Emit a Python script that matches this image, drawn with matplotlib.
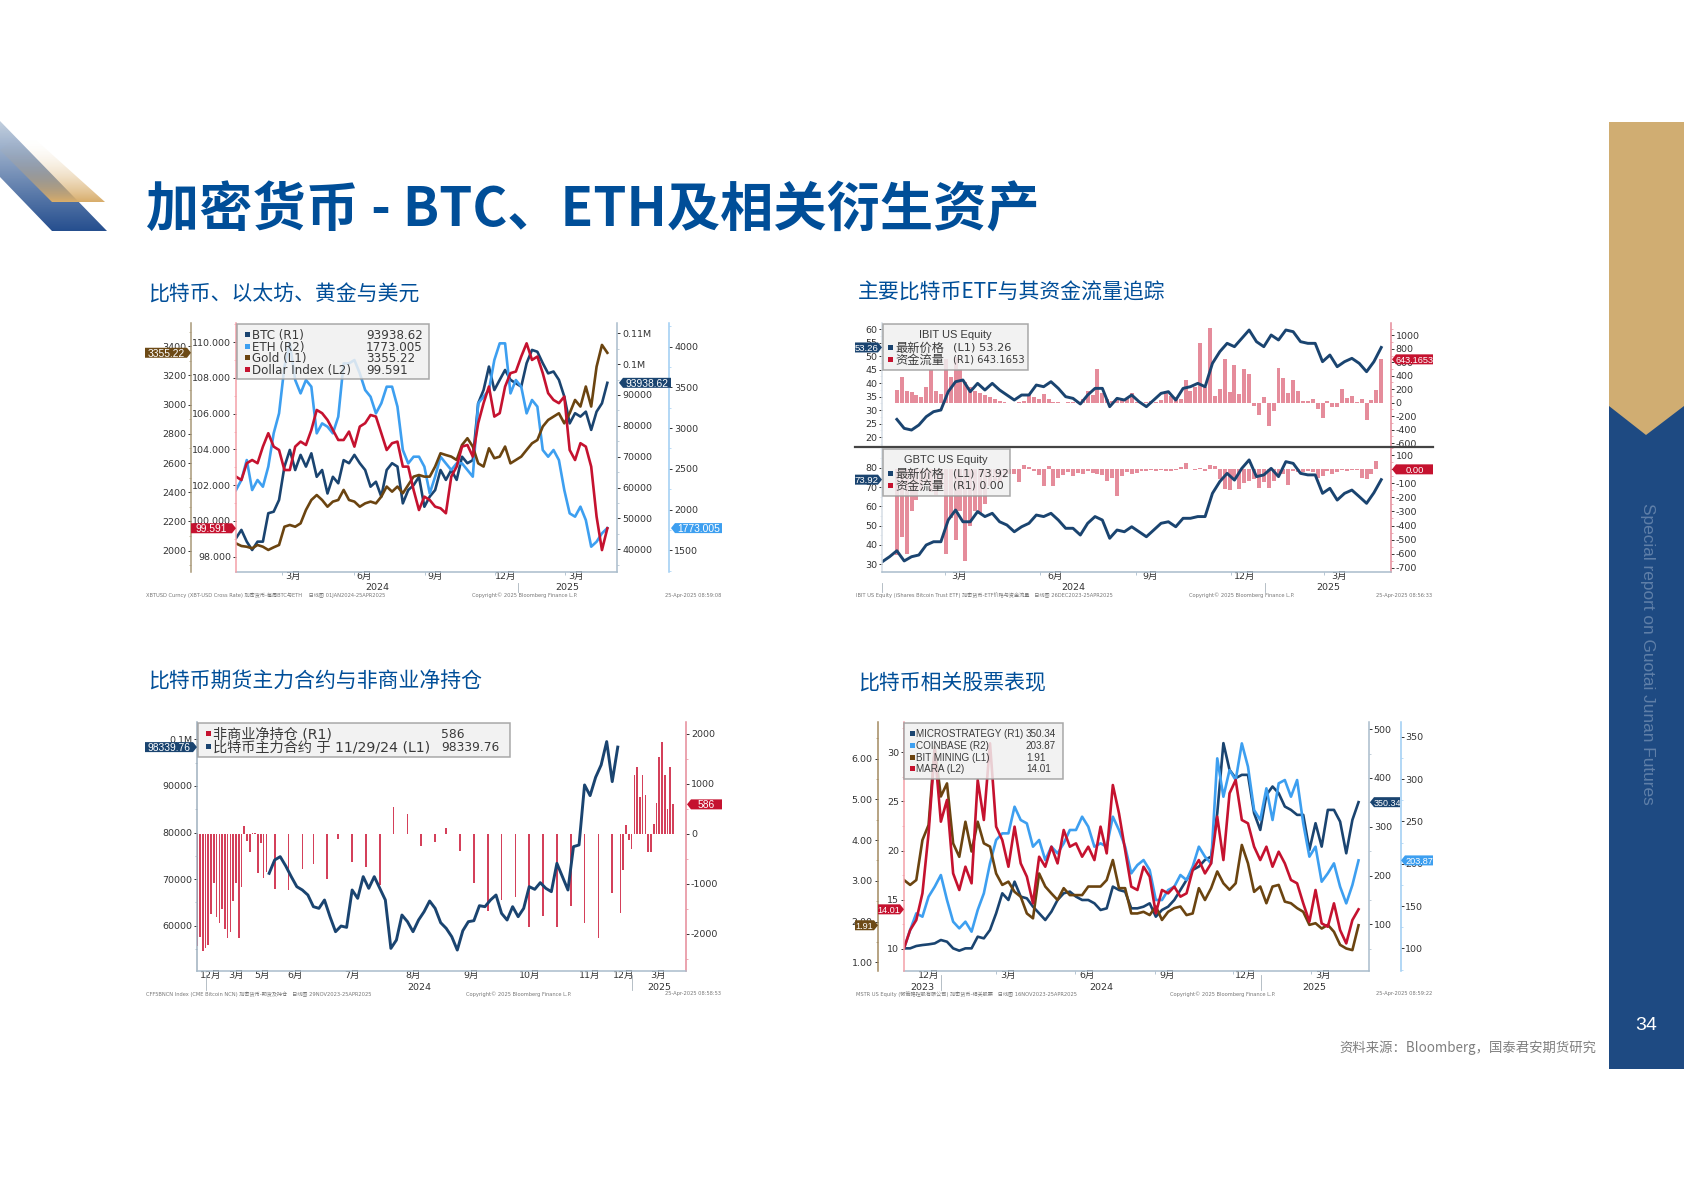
#!/usr/bin/env python3
"""Crypto report page: BTC, ETH and related assets, four Bloomberg style panels."""

import matplotlib

matplotlib.use("Agg")

import matplotlib.pyplot as plt
import numpy as np
import pandas as pd
from matplotlib.patches import Polygon, Rectangle
from matplotlib.ticker import AutoMinorLocator

plt.rcParams["font.family"] = ["DejaVu Sans", "Noto Sans CJK SC"]

WIDTH, HEIGHT = 1684, 1191
NAVY = "#1a4470"
SKY = "#3d9ff0"
BROWN = "#6b4410"
RED = "#c5122f"
PINK = "#e58a98"
TITLE_BLUE = "#004e98"
AXIS_BLUE = "#a9bccb"
TICK_TEXT = "#333333"
SLIM = ["Liberation Sans", "Noto Sans CJK SC"]

# panel 1, weekly readings 2024-01-01 to 2025-04-25
btc = [43600, 46300, 42500, 39800, 42500, 42500, 51700, 52200, 56000, 66800, 72200, 65700, 70600, 66800,
       71100, 63500, 65700, 58100, 63500, 61400, 68900, 67900, 70600, 67900, 65700, 60300, 61900, 57100,
       65700, 67900, 66800, 54900, 59200, 60800, 63500, 53800, 57100, 59200, 65700, 62500, 65700, 62500,
       70000, 67900, 68900, 87300, 91600, 99200, 91600, 94900, 98100, 94900, 93800, 92700, 100300, 104600,
       104000, 100300, 97000, 97600, 94900, 89500, 80800, 84100, 83000, 84600, 78700, 84600, 87300, 93939]
eth = [2240, 2363, 2608, 2240, 2363, 2281, 2527, 2936, 3181, 3754, 4040, 3590, 3426, 3590, 3508, 2936,
       3058, 3017, 2936, 3140, 3794, 3794, 3835, 3672, 3467, 3385, 3181, 3304, 3508, 3508, 3263, 2731,
       2567, 2649, 2649, 2527, 2199, 2404, 2649, 2567, 2486, 2567, 2567, 2486, 2404, 3304, 3385, 3467,
       3835, 4040, 4040, 3426, 3590, 3508, 3181, 3345, 3263, 2731, 2649, 2731, 2608, 2240, 1954, 1913,
       2036, 1872, 1545, 1606, 1709, 1773]
gold = [2050, 2032, 2027, 2016, 2039, 2027, 2005, 2023, 2039, 2164, 2176, 2164, 2187, 2279, 2347, 2381,
        2347, 2301, 2336, 2347, 2416, 2347, 2336, 2301, 2324, 2336, 2324, 2370, 2439, 2404, 2439, 2393,
        2450, 2507, 2518, 2507, 2507, 2576, 2667, 2655, 2644, 2621, 2724, 2770, 2713, 2598, 2576, 2701,
        2633, 2644, 2713, 2598, 2621, 2644, 2690, 2735, 2758, 2850, 2895, 2918, 2941, 2872, 2941, 3032,
        2987, 3124, 2987, 3260, 3409, 3355]
dollar_index = [102.48, 102.29, 103.23, 103.41, 103.23, 104.16, 104.91, 104.16, 103.97, 102.85, 102.85,
                104.16, 104.44, 104.25, 105.09, 106.21, 106.03, 105.65, 105.09, 104.53, 104.53, 105.0,
                104.16, 105.28, 105.47, 105.93, 105.84, 104.91, 103.97, 104.35, 104.44, 103.04, 103.04,
                101.73, 100.61, 101.36, 101.17, 100.8, 100.71, 100.43, 102.48, 103.04, 104.16, 104.25,
                103.6, 105.47, 106.59, 107.52, 105.84, 106.03, 107.52, 108.27, 108.36, 109.2, 109.94,
                109.01, 109.2, 108.27, 107.15, 106.77, 106.59, 106.96, 103.97, 103.41, 104.35, 104.16,
                103.04, 100.24, 98.37, 99.59]

# panel 2, weekly prices and flow readings
ibit_price = [26.56, 23.22, 22.6, 24.46, 27.55, 29.41, 30.03, 36.84, 40.55, 41.17, 36.84, 39.93, 37.46,
              39.93, 37.46, 35.6, 33.74, 35.6, 35.6, 39.31, 38.69, 40.55, 38.07, 34.98, 34.36, 32.26, 35.6,
              38.07, 38.07, 31.27, 34.36, 33.74, 35.6, 33.12, 31.27, 33.74, 36.22, 36.84, 33.74, 38.07,
              38.69, 39.93, 38.69, 47.36, 51.69, 54.79, 53.55, 56.64, 59.74, 55.41, 53.55, 57.88, 56.03,
              59.74, 59.12, 55.41, 54.79, 54.79, 47.98, 50.45, 46.12, 47.98, 49.22, 47.36, 44.26, 47.98,
              53.26]
ibit_flow = [190, 380, 170, 160, 110, 90, 230, 480, 170, 130, 650, 380, 680, 500, 300, 230, 180, 150, 120,
             90, 60, 20, 5, 0, -5, 10, 30, 130, 90, 60, 130, 50, 10, 5, 0, 5, 10, 3, 60, 170, 120, 500,
             140, 60, 20, 70, 50, 70, 150, 10, -5, 5, 30, 5, 40, 170, 100, 90, 50, 330, 170, 240, 880, 240,
             1110, 100, 200, 650, 160, 560, 130, 500, 420, -50, -180, 80, -340, -120, 520, 370, 150, 340,
             180, 30, 30, 50, -100, -230, 30, -60, -70, 210, 70, 100, 10, 50, -250, 40, 190, 643]
gbtc_start = ["2024-01-01", "2024-01-08"]
gbtc_price = [31.2, 33.8, 36.9, 31.6, 33.8, 34.7, 39.9, 41.6, 41.6, 52.9, 58.1, 52.0, 52.0, 57.3, 54.7,
              56.4, 52.0, 50.3, 46.8, 49.4, 51.2, 55.5, 54.7, 56.4, 52.9, 48.6, 48.6, 45.1, 51.2, 54.7,
              52.9, 43.4, 47.7, 46.8, 49.4, 46.8, 44.2, 47.7, 51.2, 52.0, 49.4, 53.8, 53.8, 54.7, 54.7,
              66.8, 72.9, 77.2, 73.7, 79.8, 84.2, 75.5, 76.4, 79.8, 75.5, 83.3, 82.4, 77.2, 76.4, 76.4,
              66.8, 69.4, 63.3, 66.8, 68.5, 65.1, 61.6, 67.1, 73.92]
gbtc_flow = [-610, -480, -600, -300, -220, -150, -100, -160, -180, -120, -600, -350, -500, -300, -650,
             -400, -300, -320, -250, -120, -80, -100, -60, -30, -30, -90, 30, 20, -10, -40, -120, 25, -120,
             -60, -40, -20, -50, -25, -30, -10, -25, -30, -40, -80, -60, -190, -50, -20, -30, -25, -10,
             -10, -5, -15, -5, -10, -15, -5, 15, 45, 5, -5, 10, -15, 30, 25, -70, -140, -150, -70, -140,
             -100, -80, -70, -130, -90, -130, -80, -50, -30, -110, -10, -20, -20, -10, -20, -60, -50, -10,
             -30, -20, -5, -10, -5, -5, -60, -70, -30, 60, 0]

# panel 3, ordinal session slots because the source axis skips dates
position_slots = list(range(26)) + [28, 33, 38, 42, 47, 51, 56, 61, 66, 71, 76, 81, 86, 90, 95, 100, 105,
                                    110, 115, 120, 125, 130, 135, 140, 145, 150, 153, 154, 155, 156, 157,
                                    158, 159, 160, 161, 162, 163, 164, 165, 166, 167, 168, 169, 170, 171,
                                    172]
net_position = [-2247, -2060, -2340, -2293, -2227, -1607, -980, -1660, -1793, -1513, -1913, -2093, -1960,
                -1347, -980, -2093, -1073, 153, -147, -360, 10, 10, -780, -180, -880, -760, -1113, -1127,
                -713, -613, -907, -113, -573, -660, -1027, 527, 393, -240, -160, 107, -340, -980, -1540,
                -1327, -1273, -1873, -1647, -1860, -1447, -1793, -2080, -1193, -1593, -727, 167, -127, -313,
                1180, 1327, 740, 1167, 780, -360, -360, 193, 620, 1527, 1833, 1173, 487, 1327, 586]
future_slots = list(range(26, 153, 2))
btc_future = [71241, 74105, 74821, 72816, 70525, 68377, 67661, 66587, 64081, 63723, 65513, 61933, 58711,
              59928, 59642, 67661, 65871, 70525, 68019, 70525, 68019, 65513, 55131, 56921, 62291, 60859,
              58711, 61217, 63007, 65298, 63723, 60644, 59427, 57637, 54773, 58926, 60859, 61074, 64296,
              64081, 65513, 66587, 62649, 61217, 64081, 61933, 63723, 68377, 67804, 69236, 68019, 67303,
              73389, 70525, 67661, 76969, 77327, 90215, 87924, 91862, 94511, 99523, 90931, 98340]
future_tick_slots = [4.7, 13.9, 23.3, 35.4, 56, 77.9, 98.9, 120, 141.9, 154.3, 166.7]
future_tick_labels = ["12月", "3月", "5月", "6月", "7月", "8月", "9月", "10月", "11月", "12月", "3月"]

# panel 4, weekly readings 2023-11-16 to 2025-04-25
mstr = [50.8, 50.8, 55.6, 57.6, 59, 61, 67.9, 64.4, 50.8, 46, 50.8, 50.8, 74.7, 71.3, 88.4, 122.6, 163.6,
        149.9, 187.5, 156.8, 153.3, 136.2, 122.6, 108.9, 126, 149.9, 163.6, 167, 156.8, 149.9, 149.9, 143.1,
        129.4, 132.8, 177.3, 170.4, 167, 132.8, 132.8, 136.2, 143.1, 115.7, 129.4, 136.2, 149.9, 170.4,
        190.9, 211.5, 218.3, 232, 238.8, 327.7, 471.3, 416.6, 399.5, 406.3, 406.3, 327.7, 293.5, 365.3,
        382.4, 368.7, 341.4, 334.5, 324.3, 324.3, 252.5, 307.2, 259.3, 334.5, 334.5, 310.6, 245.6, 314,
        350.34]
coinbase = [100, 121.7, 141.3, 137.4, 161, 172.8, 186.6, 157.1, 131.5, 123.6, 131.5, 119.7, 145.3, 165,
            200.4, 228, 235.8, 235.8, 267.3, 251.6, 247.6, 220.1, 228, 204.3, 220.1, 212.2, 224, 239.8,
            239.8, 255.5, 243.7, 220.1, 224, 220.1, 255.5, 239.8, 220.1, 188.6, 198.4, 204.3, 192.5, 157.1,
            157.1, 168.9, 172.8, 186.6, 180.7, 196.5, 220.1, 208.3, 200.4, 324.4, 279.1, 310.6, 298.8,
            342.1, 314.6, 263.4, 251.6, 289, 251.6, 294.9, 298.8, 279.1, 298.8, 247.6, 208.3, 220.1, 178.7,
            188.6, 200.4, 172.8, 153.1, 174.8, 203.87]
bit_mining = [3.02, 2.9, 3.02, 4.0, 4.37, 6.29, 5.07, 5.39, 3.92, 3.59, 4.45, 3.72, 4.45, 3.92, 3.84, 3.18,
              2.9, 2.98, 2.73, 2.61, 2.2, 2.08, 3.18, 2.86, 2.69, 2.53, 2.82, 2.65, 2.65, 2.65, 2.86, 2.86,
              2.86, 3.02, 3.51, 2.82, 2.82, 2.2, 2.2, 2.24, 2.16, 2.37, 2.04, 2.24, 2.33, 2.37, 2.16, 2.2,
              2.82, 2.53, 2.82, 3.23, 2.94, 2.78, 2.94, 3.88, 3.43, 2.73, 2.86, 2.45, 2.86, 2.9, 2.49, 2.45,
              2.33, 2.24, 1.92, 1.96, 1.83, 1.92, 1.75, 1.43, 1.34, 1.3, 1.91]
mara = [10.03, 11.9, 12.92, 15.64, 21.75, 30.24, 22.94, 25.15, 17.67, 15.98, 18.35, 16.66, 27.18, 23.11,
        30.92, 22.43, 21.07, 18.35, 22.43, 18.69, 17.34, 14.62, 19.37, 18.35, 20.39, 18.69, 22.09, 20.39,
        20.73, 19.37, 20.39, 19.03, 22.43, 19.71, 26.67, 23.79, 20.05, 16.32, 15.98, 18.35, 17.34, 13.6,
        15.98, 15.64, 16.32, 15.3, 15.64, 18.01, 19.03, 17.67, 18.69, 23.45, 19.03, 25.83, 27.18, 23.11,
        22.77, 20.39, 19.03, 20.39, 18.35, 19.88, 18.69, 17, 16.66, 14.62, 12.75, 15.98, 12.58, 12.24,
        14.62, 11.9, 10.54, 12.92, 14.01]


def weekly(start, count):
    return pd.date_range(start, "2025-04-25", periods=count)


def mid_month(*stamps):
    return [pd.Timestamp(stamp) for stamp in stamps]


def value_axis(fig, rect, xlim, ylim, ticks, labels, side="left", offset=0, color=AXIS_BLUE, base=False):
    left, top, right, bottom = rect
    ax = fig.add_axes([left / WIDTH, 1 - bottom / HEIGHT, (right - left) / WIDTH, (bottom - top) / HEIGHT])
    ax.patch.set_visible(False)
    ax.set_xlim(*xlim)
    ax.set_ylim(*ylim)
    for name, spine in ax.spines.items():
        spine.set_visible(name == side or (base and name == "bottom"))
    ax.spines[side].set_color(color)
    ax.spines[side].set_linewidth(1.1)
    ax.spines[side].set_position(("outward", offset * 0.72))
    ax.spines["bottom"].set_color(AXIS_BLUE)
    ax.spines["bottom"].set_linewidth(1.1)
    ax.yaxis.set_ticks_position(side)
    ax.set_yticks(ticks, labels)
    ax.yaxis.set_minor_locator(AutoMinorLocator(2))
    ax.tick_params(axis="y", which="major", length=2.5, width=0.7, pad=1, labelsize=6.8,
                   colors=TICK_TEXT, color=TICK_TEXT)
    ax.tick_params(axis="y", which="minor", length=1.3, width=0.5, color=color)
    if not base:
        ax.xaxis.set_visible(False)
    return ax


def month_axis(ax, ticks, labels, minor=None):
    ax.set_xticks(ticks, labels)
    ax.tick_params(axis="x", which="major", length=0, pad=0.5, labelsize=6.8, colors=TICK_TEXT)
    if minor is not None:
        ax.set_xticks(minor, minor=True)
        ax.tick_params(axis="x", which="minor", length=2, width=0.6, color=AXIS_BLUE)


def value_tag(page, ax, value, x0, x1, text, color, side, size=7.4):
    """Flag on an axis at the last value; side is where the point goes."""
    y = HEIGHT - ax.transData.transform((ax.get_xlim()[0], value))[1]
    half = 5
    if side == "right":
        points = [(x0, y - half), (x1 - 4, y - half), (x1, y), (x1 - 4, y + half), (x0, y + half)]
    else:
        points = [(x0 + 4, y - half), (x1, y - half), (x1, y + half), (x0 + 4, y + half), (x0, y)]
    page.add_patch(Polygon(points, facecolor=color, edgecolor="none", zorder=6))
    page.text((x0 + x1) / 2 + (2 if side == "left" else -2), y, text, color="white", fontsize=size,
              ha="center", va="center_baseline", zorder=7, family=SLIM)


def legend_box(page, x0, y0, x1, y1):
    page.add_patch(Rectangle((x0, y0), x1 - x0, y1 - y0, facecolor="#f0f0f0", edgecolor="#9a9a9a",
                             linewidth=1.1, alpha=0.85, zorder=4))


def legend_row(page, y, marker_x, text_x, value_x, color, label, value, size=8.6, value_size=None, family=None):
    page.add_patch(Rectangle((marker_x - 2.5, y - 2.5), 5, 5, facecolor=color, edgecolor="none", zorder=5))
    page.text(text_x, y, label, fontsize=size, color="#3a3a3a", va="center_baseline", zorder=5,
              family=family or plt.rcParams["font.family"])
    page.text(value_x, y, value, fontsize=value_size or size, color="#3a3a3a", va="center_baseline", zorder=5,
              family=family or plt.rcParams["font.family"])


def footer(page, y, left_x, left_text, mid_x, right_x, stamp):
    style = dict(fontsize=3.7, color="#777777", va="center", zorder=5)
    page.text(left_x, y, left_text, ha="left", **style)
    page.text(mid_x, y, "Copyright© 2025 Bloomberg Finance L.P.", ha="left", **style)
    page.text(right_x, y, stamp, ha="right", **style)


def year_labels(page, y, entries, marks, mark_top, mark_bottom):
    for x, year in entries:
        page.text(x, y, year, fontsize=6.8, color=TICK_TEXT, ha="center", va="center", zorder=5)
    for x in marks:
        page.plot([x, x], [mark_top, mark_bottom], color="#a9b4bd", linewidth=0.6, zorder=5)


def draw_page_frame(page):
    page.add_patch(Polygon([(1609, 122), (1684, 122), (1684, 1069), (1609, 1069)], facecolor="#1e4a82",
                           edgecolor="none"))
    page.add_patch(Polygon([(1609, 122), (1684, 122), (1684, 406), (1646, 435), (1609, 406)],
                           facecolor="#d0ad72", edgecolor="none"))
    page.text(1647, 654, "Special report on Guotai Junan Futures", rotation=-90, color="#5f7fa8",
              family=["Liberation Sans"], fontsize=12.4, ha="center", va="center")
    page.text(1646, 1026, "34", color="white", family=["Liberation Sans"], fontsize=14, ha="center",
              va="center")
    page.text(1596, 1048, "资料来源：Bloomberg，国泰君安期货研究", color="#7f7f7f", fontsize=9.6, ha="right",
              va="center", family=["Noto Sans CJK SC"])

    blue_fade = np.linspace(0, 1, 64)[:, None]
    colours = np.array([0.76, 0.81, 0.87]) + blue_fade[..., None] * (np.array([0.15, 0.31, 0.56]) - [0.76, 0.81, 0.87])
    blue = page.imshow(colours, extent=(0, 107, 231, 121), aspect="auto", zorder=1)
    blue.set_clip_path(Polygon([(0, 121), (107, 231), (52, 231), (0, 177)], transform=page.transData))
    gold_layer = np.ones((64, 1, 4))
    gold_layer[..., :3] = [0.85, 0.68, 0.42]
    gold_layer[..., 3] = np.linspace(0, 1, 64)[:, None] ** 2
    gold = page.imshow(gold_layer, extent=(0, 105, 202, 135), aspect="auto", zorder=2)
    gold.set_clip_path(Polygon([(25, 130), (105, 202), (52, 202), (0, 150)], transform=page.transData))
    page.set_xlim(0, WIDTH)
    page.set_ylim(HEIGHT, 0)

    page.text(146, 211, "加密货币 - BTC、ETH及相关衍生资产", color=TITLE_BLUE, fontsize=38.3, fontweight="bold",
              family=["Noto Sans CJK SC"], va="center")
    for x, y, text in [(148, 295, "比特币、以太坊、黄金与美元"), (858, 293, "主要比特币ETF与其资金流量追踪"),
                       (148, 682, "比特币期货主力合约与非商业净持仓"), (858, 682, "比特币相关股票表现")]:
        page.text(x, y, text, color=TITLE_BLUE, fontsize=15, fontweight="medium",
                  family=["Noto Sans CJK SC"], va="center")


def draw_markets(fig, page):
    rect = (236, 323.3, 617.4, 571.7)
    dates = weekly("2024-01-01", len(btc))
    xlim = (pd.Timestamp("2024-01-01"), pd.Timestamp("2025-05-08"))

    r1 = value_axis(fig, rect, xlim, (32765, 113218), list(range(40000, 100000, 10000)) + [100000, 110000],
                    [str(v) for v in range(40000, 100000, 10000)] + ["0.1M", "0.11M"], side="right", base=True)
    r1.plot(dates, btc, color=NAVY, linewidth=1.9)
    r2 = value_axis(fig, rect, xlim, (1238, 4286), list(range(1500, 4001, 500)),
                    [str(v) for v in range(1500, 4001, 500)], side="right", offset=52, color="#9ecdf3")
    r2.plot(dates, eth, color=SKY, linewidth=1.9)
    l1 = value_axis(fig, rect, xlim, (1856, 3557), list(range(2000, 3401, 200)),
                    [str(v) for v in range(2000, 3401, 200)], side="left", offset=44.7, color="#a89878")
    l1.plot(dates, gold, color=BROWN, linewidth=1.9)
    l2 = value_axis(fig, rect, xlim, (97.16, 111.06), list(range(98, 111, 2)),
                    [f"{v}.000" for v in range(98, 111, 2)], side="left", color="#f4a0a8")
    l2.plot(dates, dollar_index, color=RED, linewidth=1.9)
    month_axis(r1, mid_month("2024-03-15", "2024-06-15", "2024-09-15", "2024-12-15", "2025-03-15"),
               ["3月", "6月", "9月", "12月", "3月"],
               mid_month("2024-03-01", "2024-06-01", "2024-09-01", "2024-12-01", "2025-03-01"))

    value_tag(page, l1, 3355.22, 145, 191, "3355.22", "#6d4a16", "right")
    value_tag(page, l2, 99.591, 191, 236, "99.591", RED, "right")
    value_tag(page, r1, 93938.62, 619, 671, "93938.62", NAVY, "left")
    value_tag(page, r2, 1773.005, 671, 722, "1773.005", SKY, "left")

    legend_box(page, 237, 323.5, 429, 379)
    for y, color, label, value in [(334, NAVY, "BTC (R1)", "93938.62"), (346, SKY, "ETH (R2)", "1773.005"),
                                   (357, BROWN, "Gold (L1)", "3355.22"), (369, RED, "Dollar Index (L2)", "99.591")]:
        legend_row(page, y, 247, 252, 366, color, label, value)
    year_labels(page, 588, [(377, "2024"), (567, "2025")], [518], 583, 592)
    footer(page, 595, 146, "XBTUSD Curncy (XBT-USD Cross Rate) 加密货币-每周BTC与ETH    日线图 01JAN2024-25APR2025",
           472, 721, "25-Apr-2025 08:59:08")


def draw_etfs(fig, page):
    xlim = (pd.Timestamp("2024-01-01"), pd.Timestamp("2025-05-04"))
    top_rect = (882.3, 323.3, 1390.6, 446.7)
    low_rect = (882.3, 448, 1390.6, 571.7)
    price_dates = weekly("2024-01-15", len(ibit_price))
    flow_dates = weekly("2024-01-15", len(ibit_flow))

    top_flow = value_axis(fig, top_rect, xlim, (-653, 1178), list(range(-600, 1001, 200)),
                          [str(v) for v in range(-600, 1001, 200)], side="right", color=PINK)
    top_flow.bar(flow_dates, ibit_flow, width=3.8, color="#e58c9b")
    top_price = value_axis(fig, top_rect, xlim, (16.41, 62.23), list(range(20, 61, 5)),
                           [str(v) for v in range(20, 61, 5)], side="left", color="#d6dee6")
    top_price.plot(price_dates, ibit_price, color=NAVY, linewidth=2.1)

    low_flow = value_axis(fig, low_rect, xlim, (-729, 152), list(range(-700, 101, 100)),
                          [str(v) for v in range(-700, 101, 100)], side="right", color=PINK)
    low_flow.bar(flow_dates, gbtc_flow, width=3.8, color="#e58c9b")
    low_price = value_axis(fig, low_rect, xlim, (26, 90.4), list(range(30, 81, 10)),
                           [str(v) for v in range(30, 81, 10)], side="left", color="#d6dee6", base=True)
    low_price.plot(list(pd.to_datetime(gbtc_start)) + list(price_dates), gbtc_price, color=NAVY, linewidth=2.1)
    month_axis(low_price, mid_month("2024-03-15", "2024-06-15", "2024-09-15", "2024-12-15", "2025-03-15"),
               ["3月", "6月", "9月", "12月", "3月"],
               mid_month("2024-03-01", "2024-06-01", "2024-09-01", "2024-12-01", "2025-03-01"))

    page.plot([855, 1433], [447, 447], color="#444444", linewidth=1.6, zorder=3)
    value_tag(page, top_price, 53.26, 855, 882, "53.26", NAVY, "right", size=6.8)
    value_tag(page, top_flow, 643.1653, 1392, 1433, "643.1653", RED, "left", size=6.6)
    value_tag(page, low_price, 73.92, 855, 882, "73.92", NAVY, "right", size=6.8)
    value_tag(page, low_flow, 0, 1392, 1433, "0.00", RED, "left", size=6.8)

    legend_box(page, 882.5, 323.5, 1028, 370)
    page.text(955, 335, "IBIT US Equity", fontsize=8, color="#3a3a3a", ha="center", va="center", zorder=5,
              family=["Liberation Sans"])
    rows = dict(marker_x=890, text_x=895, value_x=953, size=8.8)
    legend_row(page, 347, color=NAVY, label="最新价格", value="(L1) 53.26", value_size=8.2, **rows)
    legend_row(page, 359, color=RED, label="资金流量", value="(R1) 643.1653", value_size=7.2, **rows)
    legend_box(page, 882.5, 449, 1010, 496)
    page.text(946, 460, "GBTC US Equity", fontsize=8, color="#3a3a3a", ha="center", va="center", zorder=5,
              family=["Liberation Sans"])
    legend_row(page, 473, color=NAVY, label="最新价格", value="(L1) 73.92", value_size=7.8, **rows)
    legend_row(page, 485, color=RED, label="资金流量", value="(R1) 0.00", value_size=7.8, **rows)

    year_labels(page, 588, [(1073, "2024"), (1328, "2025")], [882, 1265], 583, 592)
    footer(page, 595, 856, "IBIT US Equity (iShares Bitcoin Trust ETF) 加密货币-ETF价格与资金流量   日线图 26DEC2023-25APR2025",
           1189, 1432, "25-Apr-2025 08:56:33")


def draw_futures(fig, page):
    rect = (197.2, 722.3, 686.1, 970.7)
    xlim = (0, 176.7)
    right = value_axis(fig, rect, xlim, (-2740, 2227), [-2000, -1000, 0, 1000, 2000],
                       ["-2000", "-1000", "0", "1000", "2000"], side="right", color=PINK)
    right.bar(position_slots, net_position, width=0.6, color="#d4405a")
    left = value_axis(fig, rect, xlim, (50336, 103665), [60000, 70000, 80000, 90000, 100000],
                      ["60000", "70000", "80000", "90000", "0.1M"], side="left", color="#9fb0bf", base=True)
    left.plot(future_slots, btc_future, color=NAVY, linewidth=2.1)
    month_axis(left, future_tick_slots, future_tick_labels)

    value_tag(page, left, 98339.76, 145, 197, "98339.76", NAVY, "right")
    value_tag(page, right, 586, 687, 722, "586", RED, "left")

    legend_box(page, 197.5, 722.5, 509.5, 757)
    rows = dict(marker_x=208, text_x=213, value_x=441, size=10.2, value_size=8.8)
    legend_row(page, 733, color=RED, label="非商业净持仓 (R1)", value="586", **rows)
    legend_row(page, 746, color=NAVY, label="比特币主力合约 于 11/29/24 (L1)", value="98339.76", **rows)
    year_labels(page, 987, [(419, "2024"), (659, "2025")], [206, 632], 975, 990)
    footer(page, 994, 146, "CFF5BNCN Index (CME Bitcoin NCN) 加密货币-期货及持仓   日线图 29NOV2023-25APR2025",
           466, 721, "25-Apr-2025 08:58:53")


def draw_stocks(fig, page):
    rect = (904, 722.3, 1368.9, 970.7)
    dates = weekly("2023-11-16", len(mstr))
    xlim = (pd.Timestamp("2023-11-16"), pd.Timestamp("2025-05-07"))

    r1 = value_axis(fig, rect, xlim, (5, 514), list(range(100, 501, 100)),
                    [str(v) for v in range(100, 501, 100)], side="right", base=True)
    r1.plot(dates, mstr, color=NAVY, linewidth=1.9)
    r2 = value_axis(fig, rect, xlim, (73.6, 367), list(range(100, 351, 50)),
                    [str(v) for v in range(100, 351, 50)], side="right", offset=31.6, color="#9ecdf3")
    r2.plot(dates, coinbase, color=SKY, linewidth=1.9)
    l1 = value_axis(fig, rect, xlim, (0.795, 6.89), [1, 2, 3, 4, 5, 6],
                    ["1.00", "2.00", "3.00", "4.00", "5.00", "6.00"], side="left", offset=26.5, color="#a38a60")
    l1.plot(dates, bit_mining, color=BROWN, linewidth=1.9)
    l2 = value_axis(fig, rect, xlim, (7.76, 33.06), list(range(10, 31, 5)),
                    [str(v) for v in range(10, 31, 5)], side="left", color="#f4a0a8")
    l2.plot(dates, mara, color=RED, linewidth=1.9)
    month_axis(r1, mid_month("2023-12-15", "2024-03-15", "2024-06-15", "2024-09-15", "2024-12-15", "2025-03-15"),
               ["12月", "3月", "6月", "9月", "12月", "3月"],
               mid_month("2024-03-01", "2024-06-01", "2024-09-01", "2024-12-01", "2025-03-01"))

    value_tag(page, l2, 14.01, 878, 904, "14.01", RED, "right", size=6.6)
    value_tag(page, l1, 1.91, 855, 878, "1.91", "#6d4a16", "right", size=6.6)
    value_tag(page, r1, 350.34, 1370, 1400, "350.34", NAVY, "left", size=6.4)
    value_tag(page, r2, 203.87, 1401, 1433, "203.87", SKY, "left", size=6.6)

    legend_box(page, 904, 722.5, 1063, 778.5)
    for y, color, label, value in [(733, NAVY, "MICROSTRATEGY (R1)", "350.34"), (745, SKY, "COINBASE (R2)", "203.87"),
                                   (757, BROWN, "BIT MINING (L1)", "1.91"), (768, RED, "MARA (L2)", "14.01")]:
        legend_row(page, y, 912, 916, 1026, color, label, value, size=7.1, family=SLIM)
    year_labels(page, 987, [(922, "2023"), (1101, "2024"), (1314, "2025")], [941, 1261], 975, 990)
    footer(page, 994, 856, "MSTR US Equity (微策略控股有限公司) 加密货币-相关股票   日线图 16NOV2023-25APR2025",
           1170, 1432, "25-Apr-2025 08:59:22")


def main():
    fig = plt.figure(figsize=(WIDTH / 100, HEIGHT / 100), dpi=100, facecolor="white")
    page = fig.add_axes([0, 0, 1, 1], zorder=10)
    page.set_xlim(0, WIDTH)
    page.set_ylim(HEIGHT, 0)
    page.axis("off")
    page.patch.set_visible(False)

    draw_page_frame(page)
    draw_markets(fig, page)
    draw_etfs(fig, page)
    draw_futures(fig, page)
    draw_stocks(fig, page)
    page.set_xlim(0, WIDTH)
    page.set_ylim(HEIGHT, 0)

    fig.savefig("out.png", dpi=100)
    plt.close(fig)


if __name__ == "__main__":
    main()
